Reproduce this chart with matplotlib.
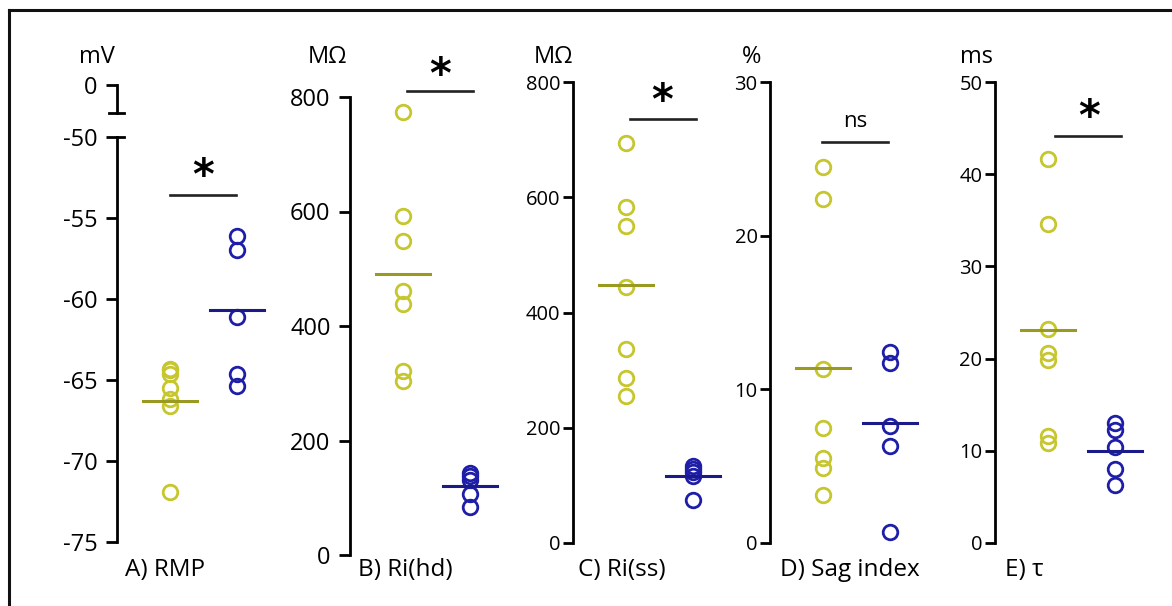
import numpy as np
import matplotlib.pyplot as plt
import matplotlib.transforms as mtransforms
from matplotlib.lines import Line2D

plt.rcParams['font.family'] = ['Open Sans', 'DejaVu Sans']
plt.rcParams['axes.unicode_minus'] = False

# ---- data ----
panel_labels = ['A) RMP', 'B) Ri(hd)', 'C) Ri(ss)', 'D) Sag index', 'E) τ']
units = ['mV', 'MΩ', 'MΩ', '%', 'ms']

yellow_vals = [
    [-64.3, -64.4, -64.6, -65.5, -66.2, -66.6, -71.9],
    [773, 592, 549, 462, 438, 321, 304],
    [695, 583, 550, 445, 337, 286, 255],
    [24.5, 22.4, 11.3, 7.5, 5.5, 4.9, 3.1],
    [41.6, 34.6, 23.2, 20.6, 19.8, 11.6, 10.9],
]
blue_vals = [
    [-56.1, -57.0, -61.1, -64.6, -65.4],
    [144, 138, 131, 107, 84],
    [134, 128, 124, 117, 75],
    [12.4, 11.7, 7.6, 6.3, 0.7],
    [13.0, 12.3, 10.4, 8.0, 6.3],
]
yellow_means = [-66.3, 490, 447, 11.4, 23.1]
blue_means = [-60.7, 121, 116, 7.8, 10.0]

ylims = [(-75, -50), (0, 800), (0, 800), (0, 30), (0, 50)]
yticks = [
    [-75, -70, -65, -60, -55, -50],
    [0, 200, 400, 600, 800],
    [0, 200, 400, 600, 800],
    [0, 10, 20, 30],
    [0, 10, 20, 30, 40, 50],
]

sig_text = ['*', '*', '*', 'ns', '*']
sig_y = [-53.6, 811, 736, 26.1, 44.1]
sig_x0 = [0.0, 0.06, 0.06, -0.01, 0.1]
sig_x1 = [0.98, 1.04, 1.04, 0.97, 1.09]
sig_text_x = [0.5, 0.55, 0.54, 0.48, 0.61]
sig_text_y = [-52.1, 847, 776, 27.4, 46.7]

# ---- layout (pixels) ----
W, H = 1172, 606
AX_W = 160
spine_x = [117, 350, 573, 770, 995]
top_px = [137, 97, 82, 82, 82]
bot_px = [542, 555, 543, 543, 543]
unit_x = [97, 328, 553, 752, 977]
label_x = [125, 358, 578, 780, 1005]

c_yel = '#c6c62e'
c_yel_line = '#9a9a22'
c_blue = '#1e1ea8'
c_blue_line = '#1a1a88'


def rect(x, ytop, ybot, w=AX_W):
    return [x / W, 1 - ybot / H, w / W, (ybot - ytop) / H]


def style_axis(ax, big):
    for s in ['top', 'right', 'bottom']:
        ax.spines[s].set_visible(False)
    ax.spines['left'].set_linewidth(2)
    ax.set_xticks([])
    ax.patch.set_alpha(0)
    if big:
        ax.tick_params(axis='y', direction='out', length=8, width=2,
                       pad=6, labelsize=17)
    else:
        ax.tick_params(axis='y', direction='out', length=7, width=2,
                       pad=2, labelsize=14.5)


fig = plt.figure(figsize=(W / 100, H / 100), dpi=100)

for i in range(5):
    ax = fig.add_axes(rect(spine_x[i], top_px[i], bot_px[i]))
    style_axis(ax, i < 2)
    ax.set_xlim(-53 / 67, (AX_W - 53) / 67)
    ax.set_ylim(*ylims[i])
    ax.set_yticks(yticks[i])

    ax.plot(np.zeros(len(yellow_vals[i])), yellow_vals[i], 'o', ms=10.5,
            mfc='none', mec=c_yel, mew=2, clip_on=False)
    ax.plot(np.ones(len(blue_vals[i])), blue_vals[i], 'o', ms=10.5,
            mfc='none', mec=c_blue, mew=2, clip_on=False)
    ax.plot([-0.4, 0.4], [yellow_means[i]] * 2, color=c_yel_line, lw=2.2,
            clip_on=False)
    ax.plot([0.6, 1.4], [blue_means[i]] * 2, color=c_blue_line, lw=2.2,
            clip_on=False)

    ax.plot([sig_x0[i], sig_x1[i]], [sig_y[i]] * 2, color='#222222', lw=1.9,
            clip_on=False)
    if sig_text[i] == '*':
        shifted = mtransforms.offset_copy(ax.transData, fig=fig, y=-6,
                                          units='dots')
        ax.text(sig_text_x[i], sig_text_y[i], '*', ha='center', va='center',
                fontsize=30, fontweight='bold', family='DejaVu Sans',
                transform=shifted, clip_on=False)
    else:
        ax.text(sig_text_x[i], sig_text_y[i], sig_text[i], ha='center',
                va='center', fontsize=16, clip_on=False)

    fig.text(unit_x[i] / W, 1 - 57 / H, units[i], ha='center', va='center',
             fontsize=17)
    fig.text(label_x[i] / W, 1 - 570 / H, panel_labels[i], ha='left',
             va='center', fontsize=17.5)

    if i == 0:
        # broken axis: small top segment holding the 0 tick
        ax.plot([0, 7 / AX_W], [-50, -50], transform=ax.get_yaxis_transform(),
                color='k', lw=2, clip_on=False)
        axt = fig.add_axes(rect(spine_x[0], 85, 113))
        style_axis(axt, True)
        axt.set_ylim(-1, 0)
        axt.set_yticks([0])
        axt.plot([-8 / AX_W, 7 / AX_W], [-1, -1],
                 transform=axt.get_yaxis_transform(), color='k', lw=2,
                 clip_on=False)

# frame around the figure (left and top edges visible)
fig.add_artist(Line2D([9 / W, 9 / W], [0, 1 - 10 / H], color='#111111',
                      lw=2.2, transform=fig.transFigure))
fig.add_artist(Line2D([9 / W, 1], [1 - 10 / H, 1 - 10 / H], color='#111111',
                      lw=2.2, transform=fig.transFigure))

fig.savefig('out.png', dpi=100)
